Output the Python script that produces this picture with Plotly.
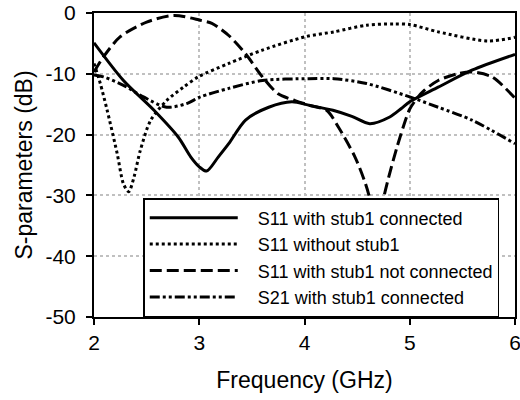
import plotly.graph_objects as go

# S11 with stub1 connected (solid)
f_conn = [2.0, 2.28, 2.57, 2.80, 2.92, 3.0, 3.07, 3.18, 3.28, 3.44, 3.66, 3.88, 4.05, 4.27, 4.45, 4.62, 4.81, 4.92, 5.0, 5.27, 5.59, 6.0]
s11_conn = [-4.9, -11.1, -16.0, -20.4, -23.7, -25.3, -26.0, -23.7, -21.5, -17.6, -15.5, -14.6, -15.2, -16.0, -17.0, -18.2, -17.1, -15.7, -14.6, -12.2, -9.4, -6.8]

# S11 without stub1 (dotted)
f_without = [2.0, 2.06, 2.125, 2.22, 2.28, 2.33, 2.38, 2.44, 2.54, 2.69, 2.85, 2.99, 3.28, 3.60, 4.01, 4.28, 4.59, 4.85, 5.0, 5.27, 5.74, 6.0]
s11_without = [-8.3, -11.6, -16.0, -23.1, -28.1, -29.4, -27.0, -22.6, -17.6, -14.4, -12.2, -10.5, -8.3, -6.1, -3.9, -3.1, -2.0, -1.8, -1.9, -3.1, -4.6, -4.0]

# S11 with stub1 not connected (dashed)
f_notconn = [2.0, 2.09, 2.25, 2.50, 2.76, 3.01, 3.12, 3.28, 3.44, 3.60, 3.75, 3.91, 4.05, 4.21, 4.32, 4.48, 4.58, 4.63, 4.685, 4.74, 4.80, 4.88, 4.96, 5.0, 5.07, 5.14, 5.27, 5.45, 5.59, 5.78, 6.0]
s11_notconn = [-9.7, -7.2, -3.9, -1.5, -0.4, -1.2, -1.7, -3.7, -6.7, -10.5, -13.3, -14.4, -15.2, -16.0, -18.7, -23.7, -28.1, -31.3, -40.0, -31.5, -27.0, -22.0, -17.6, -15.8, -14.0, -12.7, -11.1, -10.0, -9.7, -10.5, -14.0]

# S21 with stub1 connected (dash-dot-dot)
f_s21 = [2.0, 2.09, 2.28, 2.47, 2.69, 2.88, 3.01, 3.28, 3.60, 4.04, 4.28, 4.59, 5.0, 5.27, 5.59, 6.0]
s21_conn = [-10.2, -10.5, -11.9, -13.8, -15.5, -14.9, -13.8, -12.4, -11.1, -10.8, -10.8, -11.6, -13.8, -15.5, -17.6, -21.5]

x_ticks = [2, 3, 4, 5, 6]
y_ticks = [-50, -40, -30, -20, -10, 0]

series = [
    ("S11 with stub1 connected", f_conn, s11_conn, "solid"),
    ("S11 without stub1", f_without, s11_without, "3px,3px"),
    ("S11 with stub1 not connected", f_notconn, s11_notconn, "12px,5px"),
    ("S21 with stub1 connected", f_s21, s21_conn, "10px,3px,3px,3px,3px,3px"),
]

FONT = "Liberation Sans, Arial, sans-serif"
PAD = "\u00a0\u00a0\u00a0"

fig = go.Figure()
for name, xs, ys, dash in series:
    fig.add_trace(go.Scatter(
        x=xs, y=ys, name=PAD + name, mode="lines",
        line=dict(color="black", width=3, dash=dash, shape="spline", smoothing=0.8),
    ))

fig.update_layout(
    width=520, height=400,
    margin=dict(l=94, r=5, t=13, b=83, autoexpand=False),
    paper_bgcolor="white", plot_bgcolor="white",
    font=dict(family=FONT, color="black", size=21),
    showlegend=True,
    legend=dict(
        x=0.117, y=0.0, xanchor="left", yanchor="bottom",
        bgcolor="white", bordercolor="black", borderwidth=1.5,
        font=dict(family=FONT, size=18, color="black"),
        itemwidth=88, tracegroupgap=0,
    ),
)
fig.update_xaxes(
    range=[2, 6], tickvals=x_ticks, ticktext=[str(v) for v in x_ticks],
    showline=True, linecolor="black", linewidth=2, mirror=True,
    ticks="outside", ticklen=6, tickwidth=2, tickcolor="black",
    showgrid=True, gridcolor="#c0c0c0", gridwidth=2, griddash="dot",
    zeroline=False, automargin=False, ticklabeloverflow="allow",
    title=dict(text="Frequency (GHz)", font=dict(size=23), standoff=19),
    tickfont=dict(size=21),
)
fig.update_yaxes(
    range=[-50, 0], tickvals=y_ticks, ticktext=[str(v) for v in y_ticks],
    showline=True, linecolor="black", linewidth=2, mirror=True,
    ticks="outside", ticklen=6, tickwidth=2, tickcolor="black",
    showgrid=True, gridcolor="#c0c0c0", gridwidth=2, griddash="dot",
    zeroline=False, automargin=False, ticklabelstandoff=6, ticklabeloverflow="allow",
    title=dict(text="S-parameters (dB)", font=dict(size=23), standoff=6),
    tickfont=dict(size=21),
)

fig.write_html("out.html")
